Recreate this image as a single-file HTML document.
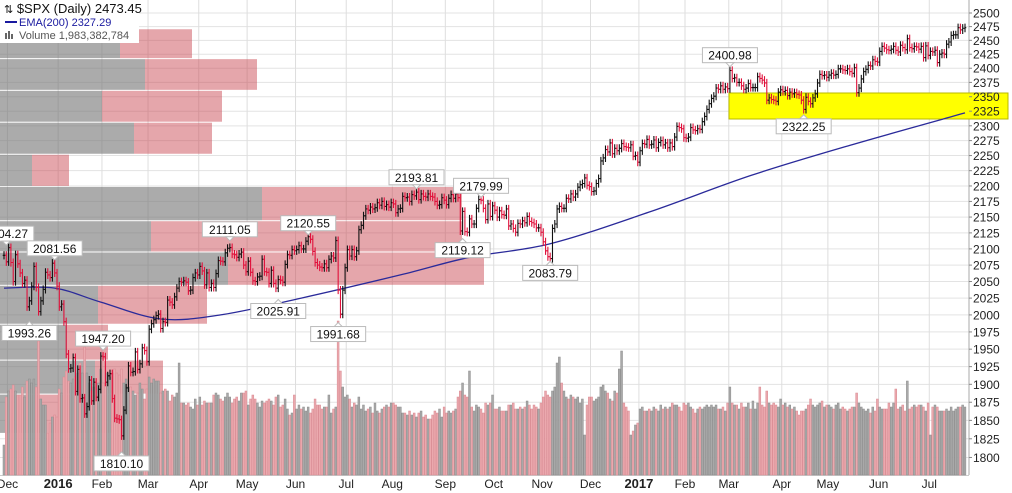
<!DOCTYPE html>
<html><head><meta charset="utf-8">
<style>
html,body{margin:0;padding:0;background:#fff;}
svg{display:block;font-family:"Liberation Sans",sans-serif;}
</style></head>
<body>
<svg id="chart" width="1012" height="493" viewBox="0 0 1012 493" xmlns="http://www.w3.org/2000/svg">
<rect x="0" y="0" width="1012" height="493" fill="#fff"/>
<g id="grid"></g>
<g id="vbp"></g>
<rect x="729" y="93" width="279" height="26" fill="#ffff00" stroke="#b8b800" stroke-width="1"/>
<g id="vol"></g>
<g id="ema"></g>
<g id="price"></g>
<g id="ann"></g>
<g id="yaxis"></g>
<g id="xaxis"></g>
<g>
  <rect x="0" y="0" width="139" height="43" fill="#fff"/>
  <text x="4" y="13" font-size="13" fill="#111"><tspan font-size="11">⇅</tspan> $SPX (Daily) 2473.45</text>
  <rect x="5" y="21" width="12" height="2" fill="#1a1aa0"/>
  <text x="19" y="26" font-size="11" fill="#1a1aa0">EMA(200) 2327.29</text>
  <rect x="5" y="33" width="2" height="6" fill="#666"/><rect x="8" y="31" width="2" height="8" fill="#666"/><rect x="11" y="34" width="2" height="5" fill="#666"/>
  <text x="19" y="39" font-size="11" fill="#555">Volume 1,983,382,784</text>
</g>
</svg>
<script>
const monthLabels=["","Dec","2016","Feb","Mar","Apr","May","Jun","Jul","Aug","Sep","Oct","Nov","Dec","2017","Feb","Mar","Apr","May","Jun","Jul"];
const closesByMonth=[
[2090,2080],
[2102,2079,2050,2091,2077,2063,2047,2052,2012,2021,2043,2073,2041,2005,2021,2038,2064,2060,2056,2078,2063,2043],
[2012,2016,1990,1943,1922,1923,1938,1890,1921,1880,1881,1859,1869,1906,1877,1903,1882,1893,1940],
[1939,1903,1912,1915,1880,1853,1852,1851,1829,1864,1895,1926,1917,1918,1946,1921,1929,1952,1948,1932],
[1979,1987,1993,1999,2001,1980,1990,1989,2022,2019,2015,2027,2040,2050,2049,2051,2049,2036,2037,2056,2063,2060],
[2073,2066,2045,2063,2041,2047,2041,2062,2082,2081,2080,2094,2101,2102,2092,2091,2087,2092,2095,2075,2065],
[2081,2064,2051,2050,2057,2058,2084,2065,2064,2047,2067,2047,2040,2053,2052,2049,2076,2091,2090,2099,2097],
[2099,2105,2100,2100,2112,2119,2115,2096,2079,2075,2072,2071,2077,2071,2084,2089,2086,2113,2037,2001,2037,2071],
[2099,2089,2099,2088,2097,2130,2137,2152,2163,2161,2166,2163,2165,2173,2169,2175,2167,2170,2166,2173],
[2171,2157,2163,2164,2183,2181,2182,2175,2186,2184,2190,2178,2187,2183,2182,2187,2183,2182,2175,2169,2170,2181,2177],
[2170,2180,2186,2180,2187,2181,2128,2159,2127,2126,2147,2139,2139,2164,2178,2177,2164,2146,2171,2151,2168],
[2161,2150,2160,2154,2153,2163,2136,2139,2132,2126,2140,2139,2144,2141,2151,2143,2141,2139,2133,2133,2126],
[2111,2097,2088,2085,2132,2139,2163,2167,2164,2164,2180,2179,2187,2182,2187,2198,2202,2204,2213,2201,2199],
[2191,2192,2204,2212,2241,2246,2260,2256,2271,2253,2262,2258,2262,2270,2265,2264,2263,2268,2249,2250,2239],
[2258,2270,2269,2277,2268,2269,2276,2263,2272,2275,2268,2271,2263,2271,2265,2281,2299,2297,2295,2280],
[2279,2281,2297,2293,2292,2295,2294,2307,2316,2328,2338,2347,2351,2365,2363,2369,2363,2367,2364],
[2396,2382,2383,2375,2375,2369,2363,2365,2373,2366,2366,2366,2385,2382,2379,2374,2344,2348,2345,2344,2342,2358,2362],
[2359,2361,2352,2358,2355,2357,2354,2353,2344,2328,2349,2342,2338,2348,2355,2374,2389,2387,2388,2384],
[2388,2391,2388,2389,2399,2399,2397,2396,2399,2394,2391,2401,2357,2365,2381,2394,2398,2405,2404,2415,2412,2411],
[2430,2439,2436,2433,2432,2434,2439,2432,2429,2441,2437,2433,2453,2437,2435,2439,2438,2434,2439,2419,2440,2423],
[2430,2429,2432,2410,2425,2427,2425,2443,2447,2459,2460,2460,2473,2469,2472,2473]
];
const volumeByMonth=[
[1.5,3.9],
[4.2,4.3,4.5,4.2,4.0,4.0,4.4,3.9,4.7,4.8,4.6,4.8,4.4,6.7,3.8,3.5,3.5,2.1,2.6,2.9,3.0,2.9],
[4.3,4.1,4.9,5.2,4.7,4.6,4.8,4.9,5.1,5.6,5.1,6.4,5.1,4.6,4.2,4.4,4.6,4.6,5.3],
[4.6,4.6,5.1,4.9,5.1,5.3,5.1,5.0,5.3,4.6,4.8,4.4,4.4,4.2,4.0,4.1,4.6,4.3,3.8,4.3],
[4.9,4.6,4.8,4.7,4.7,4.1,4.2,4.3,4.2,3.7,4.0,3.9,4.1,5.6,3.6,3.6,3.5,3.6,3.4,3.3,3.8,3.5],
[3.9,3.5,3.7,3.6,3.6,3.6,4.0,4.1,4.0,3.8,3.7,3.9,4.1,3.9,3.6,3.8,3.9,3.7,4.1,4.1,4.2],
[3.5,3.8,4.0,3.8,3.6,3.4,3.7,3.6,3.7,3.8,3.7,3.5,3.9,4.0,3.4,3.5,3.8,3.3,3.0,3.1,4.0],
[3.3,3.5,3.3,3.4,3.2,3.4,3.1,3.3,3.8,3.5,3.5,3.3,3.4,3.4,4.0,3.1,3.3,3.4,7.7,5.2,4.4,3.9],
[4.0,3.8,3.4,3.6,3.5,3.9,3.3,3.5,3.2,3.3,3.4,3.1,3.6,3.2,3.1,3.3,3.4,3.5,3.4,3.6],
[3.6,3.5,3.4,3.4,3.1,3.1,3.0,3.2,3.0,3.1,2.9,3.1,3.2,2.9,3.0,2.8,2.8,3.0,3.2,3.1,3.3,2.9,3.4],
[3.1,3.2,3.1,3.2,3.3,3.9,4.2,4.6,4.0,3.9,5.2,3.4,3.2,3.5,3.4,3.3,3.1,3.6,3.5,3.6,4.0],
[3.3,3.3,3.4,3.2,3.2,3.2,3.5,3.5,3.6,3.3,3.3,3.4,3.3,3.4,3.7,3.5,3.3,3.5,3.4,3.3,3.6],
[3.9,4.2,4.0,3.9,4.2,4.4,5.6,5.9,4.6,4.2,3.9,3.8,4.0,3.9,3.8,3.9,3.6,3.8,2.0,3.5,3.9],
[3.9,3.7,3.8,3.9,4.4,4.5,4.2,4.1,3.8,3.7,4.2,4.1,5.3,6.2,3.6,3.4,3.2,2.0,2.2,2.5,2.6],
[3.3,3.4,3.2,3.2,3.3,3.2,3.4,3.3,3.2,3.5,3.3,3.4,3.3,3.4,3.6,3.5,3.5,3.4,3.2,3.6],
[3.5,3.6,3.4,3.3,3.1,3.3,3.4,3.3,3.4,3.5,3.4,3.5,3.4,3.5,3.3,3.3,3.4,3.2,3.6],
[4.4,3.6,3.5,3.5,3.3,3.6,3.4,3.4,3.6,3.3,3.7,3.3,3.6,4.4,3.5,3.4,4.2,3.6,3.5,3.6,3.5,3.4,3.8],
[3.5,3.6,3.4,3.5,3.3,3.4,3.2,3.0,3.2,3.2,3.3,3.5,3.8,3.5,3.4,3.5,3.6,3.7,3.4,3.5],
[3.5,3.4,3.3,3.5,3.6,3.3,3.4,3.3,3.2,3.3,3.4,3.4,4.1,3.6,3.4,3.3,3.2,3.3,3.1,3.4,3.2,3.8],
[3.4,3.3,3.3,3.3,3.6,3.4,3.6,4.3,3.3,3.4,3.5,3.2,4.7,3.3,3.4,3.5,3.4,3.5,3.5,3.4,3.2,3.6],
[2.0,3.4,3.5,3.4,3.2,3.2,3.2,3.3,3.2,3.4,3.2,3.3,3.4,3.4,3.5,3.4]
];
const emaDates=[0,22,42,68,94,129,172,202,237,280,324,367,417];
const emaValues=[2040,2040,2019,1994,2000,2025,2060,2087,2108,2158,2217,2267,2322];
const vbpTop=[2472,2418,2362,2307,2253,2200,2145,2096,2045,1987,1935,1887];
const vbpBottom=[2418,2362,2307,2253,2200,2145,2096,2045,1987,1935,1887,1833];
const vbpUp=[120,145,102,134,32,262,151,228,98,67,95,30];
const vbpDown=[72,112,120,78,37,200,311,256,109,41,68,83];
const annValues=[2104.27,2081.56,1993.26,1947.20,1810.10,2111.05,2025.91,2120.55,1991.68,2193.81,2179.99,2119.12,2083.79,2400.98,2322.25];
const annIndex=[1,22,11,43,51,98,119,132,145,179,207,199,237,315,347];
const annAbove=[1,1,0,1,0,1,0,1,0,1,1,0,0,1,0];
const yTicks=[2500,2475,2450,2425,2400,2375,2350,2325,2300,2275,2250,2225,2200,2175,2150,2125,2100,2075,2050,2025,2000,1975,1950,1925,1900,1875,1850,1825,1800];

const NS="http://www.w3.org/2000/svg";
function mk(tag,attrs,parent){const e=document.createElementNS(NS,tag);for(const k in attrs)e.setAttribute(k,attrs[k]);parent.appendChild(e);return e;}
const closes=[],vols=[],monthStart=[];
closesByMonth.forEach((m,i)=>{monthStart.push(closes.length);m.forEach((c,j)=>{closes.push(c);const vm=volumeByMonth[i]||[];vols.push(vm[j]!==undefined?vm[j]:null);});});
const N=closes.length;
const X0=4,X1=965,PB=475,RIGHT=969;
const step=(X1-X0)/(N-1);
function xS(i){return X0+i*step;}
function yS(v){return 13+1353*Math.log(2500/v);}
function vS(v){return PB-v*20;}
function vbpX(v){return v;}

const grid=document.getElementById('grid');
yTicks.forEach(t=>{const l=mk('line',{x1:0,x2:RIGHT,y1:yS(t),y2:yS(t),stroke:'#e3e3e3','stroke-width':1},grid);

});
const xa=document.getElementById('xaxis');
monthStart.forEach((s,i)=>{if(i===0)return;const gx=xS(s)-step/2;
const l=mk('line',{x1:gx,x2:gx,y1:0,y2:PB,stroke:'#dedede','stroke-width':1},grid);


const bold=/^\d{4}$/.test(monthLabels[i]);
const t=mk('text',{x:gx,y:488,'font-size':bold?13:12,'font-weight':bold?'bold':'normal','text-anchor':'middle',fill:'#222'},xa);
t.textContent=monthLabels[i];

});
mk('line',{x1:RIGHT,x2:RIGHT,y1:0,y2:PB,stroke:'#aaa','stroke-width':1},grid);
mk('line',{x1:0,x2:RIGHT,y1:PB+0.5,y2:PB+0.5,stroke:'#ccc','stroke-width':1},grid);

const ya=document.getElementById('yaxis');
yTicks.forEach(t=>{mk('line',{x1:RIGHT,x2:RIGHT+3,y1:yS(t),y2:yS(t),stroke:'#888'},ya);
const tx=mk('text',{x:973,y:yS(t)+4.5,'font-size':12,fill:'#222'},ya);tx.textContent=t;

});

const vbp=document.getElementById('vbp');
vbpTop.forEach((top,i)=>{const y1=yS(top)+1,y2=yS(vbpBottom[i]);
const g=mk('rect',{x:0,y:y1,width:vbpX(vbpUp[i]),height:y2-y1,fill:'rgba(120,120,120,0.62)'},vbp);


const r=mk('rect',{x:vbpX(vbpUp[i]),y:y1,width:vbpX(vbpDown[i]),height:y2-y1,fill:'rgba(200,70,80,0.48)'},vbp);

});

const vol=document.getElementById('vol');
const price=document.getElementById('price');
for(let i=0;i<N;i++){
 const c=closes[i],o=i>0?closes[i-1]:c;const up=c>=o;const x=xS(i);
 if(vols[i]!==null){const vy=vS(vols[i]);
  const b=mk('rect',{x:x-1,y:vy,width:1.9,height:PB-vy,fill:up?'#a9a9a9':'#eba9ae',stroke:up?'#8c8c8c':'#d98a92','stroke-width':0.5},vol);
  
  }
 const col=up?'#111':'#e0103a';
 const hi=Math.max(o,c)*1.003,lo=Math.min(o,c)*0.997;
 const g=mk('path',{d:`M${x} ${yS(hi)}V${yS(lo)}M${x-1.3} ${yS(o)}H${x}M${x} ${yS(c)}H${x+1.3}`,stroke:col,'stroke-width':1.1,fill:'none'},price);
 
 
}
const ema=document.getElementById('ema');
const pts=emaDates.map((t,i)=>[xS(t),yS(emaValues[i])]);
let d='M'+pts[0][0]+' '+pts[0][1];
for(let i=0;i<pts.length-1;i++){const p0=pts[Math.max(0,i-1)],p1=pts[i],p2=pts[i+1],p3=pts[Math.min(pts.length-1,i+2)];
 const c1=[p1[0]+(p2[0]-p0[0])/6,p1[1]+(p2[1]-p0[1])/6],c2=[p2[0]-(p3[0]-p1[0])/6,p2[1]-(p3[1]-p1[1])/6];
 d+=`C${c1[0]} ${c1[1]} ${c2[0]} ${c2[1]} ${p2[0]} ${p2[1]}`;}
const ep=mk('path',{d:d,stroke:'#2a2a9a','stroke-width':1.3,fill:'none','stroke-linejoin':'round'},ema);



const ann=document.getElementById('ann');
annValues.forEach((v,i)=>{const x=xS(annIndex[i]);const py=yS(v);const txt=v.toFixed(2);const w=txt.length*7+6;
 const above=annAbove[i];const by=above?py-20:py+6;
 const g=mk('g',{},ann);
 
 
 let bx=x-w/2;
 mk('rect',{x:bx,y:by,width:w,height:15,fill:'#fff',stroke:'#bbb','stroke-width':1},g);
 mk('path',{d:above?`M${x-4} ${by+15}L${x} ${by+19}L${x+4} ${by+15}Z`:`M${x-4} ${by}L${x} ${by-4}L${x+4} ${by}Z`,fill:'#fff',stroke:'#bbb'},g);
 const t=mk('text',{x:bx+w/2,y:by+12,'font-size':12,'text-anchor':'middle',fill:'#111'},g);t.textContent=txt;});
</script>
</body></html>
